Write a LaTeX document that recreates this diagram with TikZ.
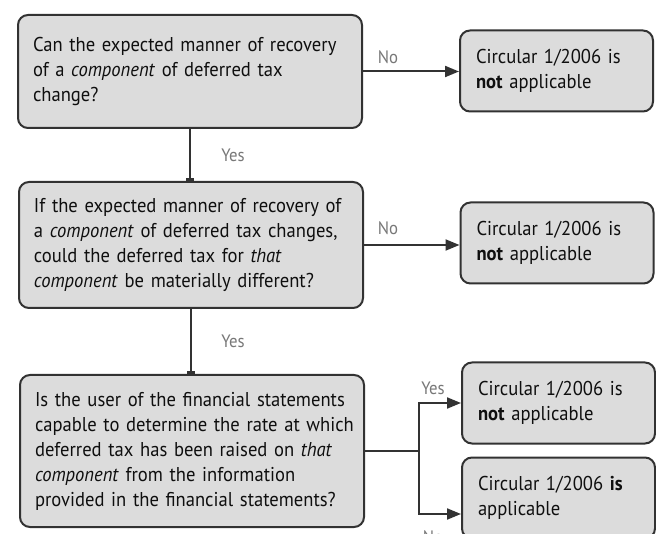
\documentclass[tikz,border=0pt]{standalone}
\usepackage{fontspec}
\setmainfont{PT Sans}[FakeStretch=0.93]
\usetikzlibrary{arrows.meta}
\definecolor{boxfill}{RGB}{220,220,220}
\definecolor{boxline}{RGB}{50,50,50}
\definecolor{labelgray}{RGB}{120,120,120}
\definecolor{txt}{RGB}{15,15,15}
\newcommand{\tline}[1]{\mbox{#1}}
\begin{document}
\begin{tikzpicture}[x=1pt,y=-1pt,
  qbox/.style={draw=boxline, fill=boxfill, line width=2pt, rounded corners=10pt,
    inner xsep=15pt, inner ysep=0pt, text width=314pt, align=left, text=txt,
    font=\fontsize{20}{25}\selectfont},
  abox/.style={draw=boxline, fill=boxfill, line width=2pt, rounded corners=10pt,
    inner xsep=16pt, inner ysep=0pt, text width=161pt, align=left, text=txt,
    minimum height=81pt, font=\fontsize{20}{25}\selectfont},
  link/.style={draw=boxline, line width=2pt},
  arr/.style={link, -{Triangle[length=14pt,width=11pt]}},
  down/.style={link, -{Rectangle[length=2.5pt,width=8pt]}},
  lbl/.style={text=labelgray, font=\fontsize{18}{20}\selectfont, inner sep=0pt}]
\useasboundingbox (0,0) rectangle (656,534);
\clip (0,0) rectangle (656,534);
\fill[white] (0,0) rectangle (656,534);

\node[qbox, minimum height=113pt] (a) at (190,71.5)
  {\tline{Can the expected manner of recovery}\\ \tline{of a \textit{component} of deferred tax}\\ change?};
\node[qbox, minimum height=126pt] (b) at (191,245)
  {\tline{If the expected manner of recovery of}\\ \tline{a \textit{component} of deferred tax changes,}\\ \tline{could the deferred tax for \textit{that}}\\ \tline{\textit{component} be materially different?}};
\node[qbox, minimum height=152pt] (c) at (192,451)
  {\tline{Is the user of the financial statements}\\ \tline{capable to determine the rate at which}\\ \tline{deferred tax has been raised on \textit{that}}\\ \tline{\textit{component} from the information}\\ \tline{provided in the financial statements?}};

\node[abox] (r1) at (556.5,71) {\tline{Circular 1/2006 is}\\ \tline{\textbf{not} applicable}};
\node[abox] (r2) at (557,243) {\tline{Circular 1/2006 is}\\ \tline{\textbf{not} applicable}};
\node[abox] (r3) at (558.5,403) {\tline{Circular 1/2006 is}\\ \tline{\textbf{not} applicable}};
\node[abox] (r4) at (558.5,498) {\tline{Circular 1/2006 \textbf{is}}\\ applicable};

\draw[arr] (a.east) -- (a.east -| r1.west);
\draw[down] (a.south) -- (a.south |- b.north);
\draw[arr] (b.east) -- (b.east -| r2.west);
\draw[down] (b.south) -- (b.south |- c.north);
\draw[link] (c.east) -- ++(54,0) coordinate (j);
\draw[arr] (j) |- (r3.west);
\draw[arr] (j) |- ([yshift=-16pt]r4.west);

\node[lbl] (n1) at (388,57) {No};
\node[lbl] (y1) at (233,155) {Yes};
\node[lbl] (n2) at (388,228) {No};
\node[lbl] (y2) at (233,341) {Yes};
\node[lbl] (y3) at (433,388) {Yes};
\node[lbl] (n3) at (433,537) {No};
\end{tikzpicture}
\end{document}
